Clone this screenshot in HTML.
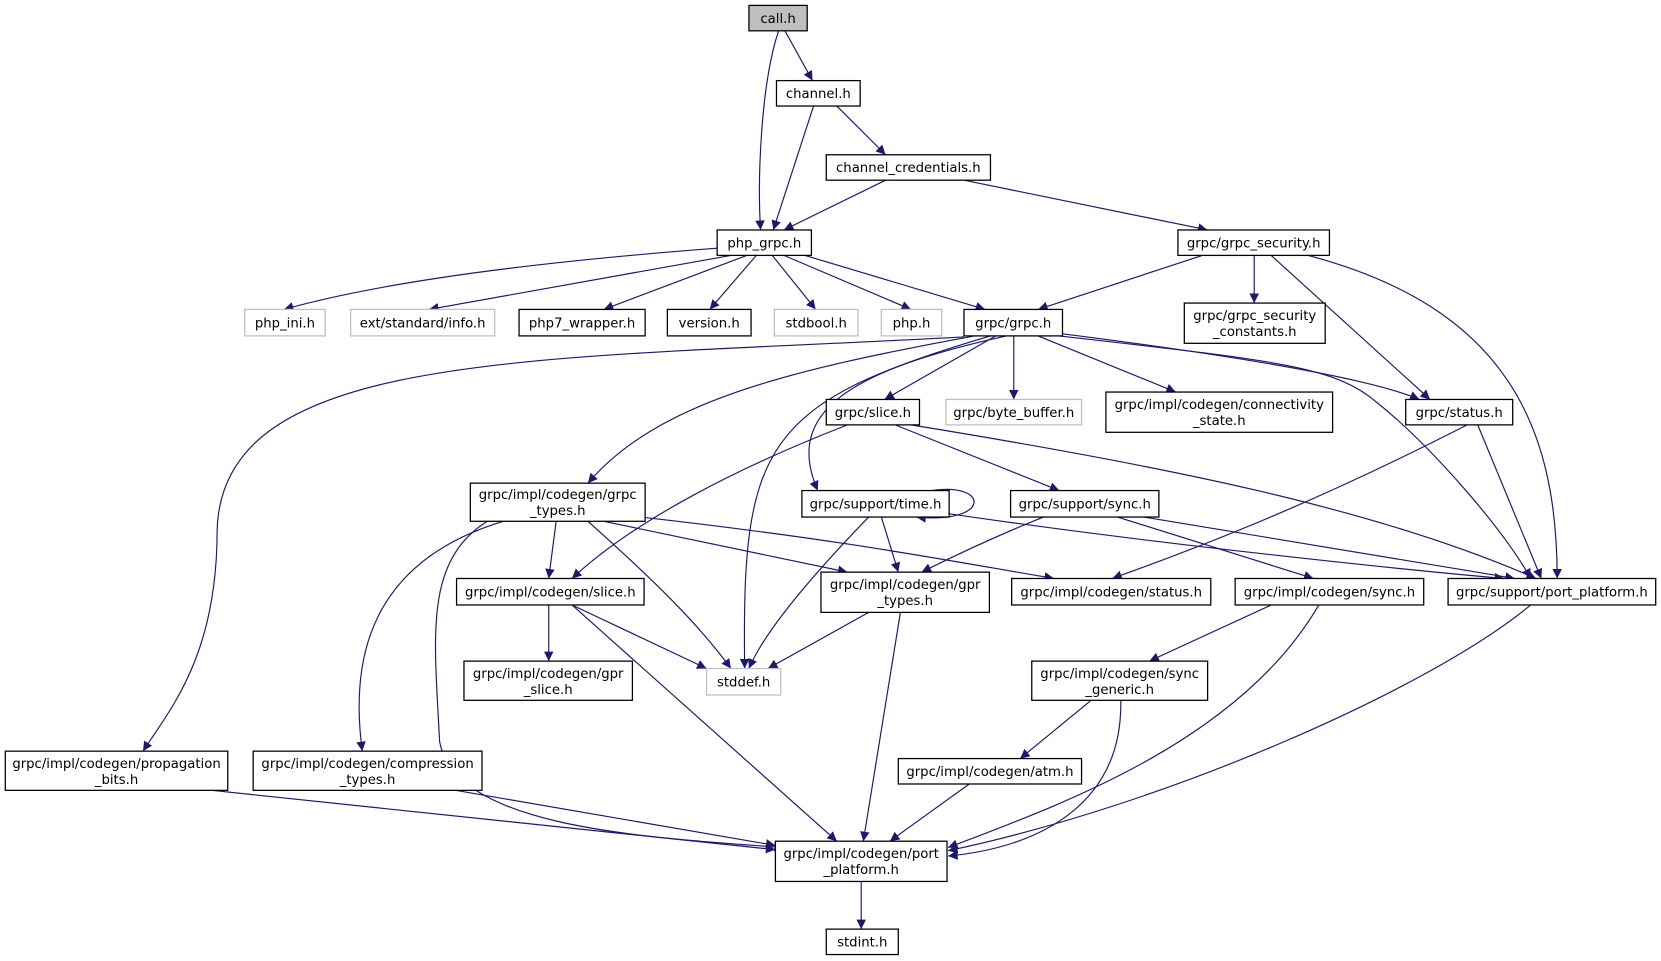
<!DOCTYPE html>
<html><head><meta charset="utf-8"><style>
html,body{margin:0;padding:0;background:#fff;width:1661px;height:961px;overflow:hidden}
svg text{font-family:"DejaVu Sans","Liberation Sans",sans-serif;font-size:12.5px;fill:#000;text-anchor:middle}
.b{fill:#fff;stroke:#000;stroke-width:1.2}
.g{fill:#fff;stroke:#bfbfbf;stroke-width:1.2}
.e{fill:none;stroke:#191970;stroke-width:1.1;marker-end:url(#a)}
</style></head><body>
<svg width="1661" height="961" viewBox="0 0 1568 907" xmlns="http://www.w3.org/2000/svg">
<defs><marker id="a" viewBox="0 0 10 10" refX="10" refY="5" markerWidth="9" markerHeight="9" markerUnits="userSpaceOnUse" orient="auto"><path d="M0,0L10,5L0,10z" fill="#191970"/></marker></defs>
<g>
<path class="e" d="M741,29L767,76"/>
<path class="e" d="M735,29C718,80 715,170 718,217"/>
<path class="e" d="M768,100L730,217"/>
<path class="e" d="M790,100L836,146"/>
<path class="e" d="M836,170L740,217"/>
<path class="e" d="M910,170L1140,217"/>
<path class="e" d="M680,234Q400,255 268,292"/>
<path class="e" d="M690,241L405,292"/>
<path class="e" d="M705,241L570,292"/>
<path class="e" d="M714,241L670,292"/>
<path class="e" d="M729,241L770,292"/>
<path class="e" d="M740,241L860,292"/>
<path class="e" d="M760,241L930,292"/>
<path class="e" d="M1135,241L980,292"/>
<path class="e" d="M1184,241L1184,286"/>
<path class="e" d="M1200,241L1350,377"/>
<path class="e" d="M1235,241C1420,290 1470,400 1470,546"/>
<path class="e" d="M910,318C500,340 210,330 205,500C205,620 160,670 135,709"/>
<path class="e" d="M920,317C740,350 620,380 555,456"/>
<path class="e" d="M935,317C720,380 700,420 703,631"/>
<path class="e" d="M950,317C800,350 740,390 772,463"/>
<path class="e" d="M940,317L835,377"/>
<path class="e" d="M957,317L957,377"/>
<path class="e" d="M980,317L1110,370"/>
<path class="e" d="M1003,315C1200,340 1300,360 1340,377"/>
<path class="e" d="M1000,317C1200,340 1260,345 1300,380C1350,420 1420,500 1445,546"/>
<path class="e" d="M800,401C700,440 600,490 540,546"/>
<path class="e" d="M845,401L1000,463"/>
<path class="e" d="M860,401C1100,440 1300,480 1450,546"/>
<path class="e" d="M1385,401C1250,470 1150,510 1050,546"/>
<path class="e" d="M1395,401L1455,546"/>
<path class="e" d="M525,492L518,546"/>
<path class="e" d="M555,492C620,550 660,590 690,631"/>
<path class="e" d="M570,492L800,540"/>
<path class="e" d="M605,488C800,510 900,530 995,546"/>
<path class="e" d="M475,492C350,530 330,620 342,709"/>
<path class="e" d="M460,492C400,530 410,600 415,700C430,780 600,790 740,800"/>
<path class="e" d="M880,463C935,455 935,495 865,488"/>
<path class="e" d="M832,488L848,540"/>
<path class="e" d="M820,488C760,550 720,600 707,631"/>
<path class="e" d="M890,484C1100,515 1350,540 1420,546"/>
<path class="e" d="M985,488C930,510 890,530 870,540"/>
<path class="e" d="M1055,488L1240,546"/>
<path class="e" d="M1080,488L1430,546"/>
<path class="e" d="M518,571L518,624"/>
<path class="e" d="M540,571L667,631"/>
<path class="e" d="M540,571L790,794"/>
<path class="e" d="M820,578L725,631"/>
<path class="e" d="M850,578L815,794"/>
<path class="e" d="M1200,571L1085,624"/>
<path class="e" d="M1245,571C1170,700 1000,760 895,800"/>
<path class="e" d="M1030,661L963,716"/>
<path class="e" d="M1058,661C1060,760 980,800 895,808"/>
<path class="e" d="M915,740L840,794"/>
<path class="e" d="M200,746L732,802"/>
<path class="e" d="M430,746L732,798"/>
<path class="e" d="M1445,571C1350,650 1100,760 895,803"/>
<path class="e" d="M813,832L813,877"/>
</g>
<g>
<rect x="707" y="5" width="55" height="24" fill="#bfbfbf" stroke="#000" stroke-width="1.2"/><text x="734.5" y="21.5">call.h</text>
<rect class="b" x="733" y="76" width="79" height="24"/><text x="772.5" y="92.5">channel.h</text>
<rect class="b" x="780" y="146" width="155" height="24"/><text x="857.5" y="162.5">channel_credentials.h</text>
<rect class="b" x="677" y="217" width="89" height="24"/><text x="721.5" y="233.5">php_grpc.h</text>
<rect class="b" x="1112" y="217" width="143" height="24"/><text x="1183.5" y="233.5">grpc/grpc_security.h</text>
<rect class="g" x="231" y="292" width="76" height="25"/><text x="269" y="309">php_ini.h</text>
<rect class="g" x="331" y="292" width="136" height="25"/><text x="399" y="309">ext/standard/info.h</text>
<rect class="b" x="490" y="292" width="119" height="25"/><text x="549.5" y="309">php7_wrapper.h</text>
<rect class="b" x="630" y="292" width="79" height="25"/><text x="669.5" y="309">version.h</text>
<rect class="g" x="731" y="292" width="79" height="25"/><text x="770.5" y="309">stdbool.h</text>
<rect class="g" x="832" y="292" width="57" height="25"/><text x="860.5" y="309">php.h</text>
<rect class="b" x="910" y="292" width="93" height="25"/><text x="956.5" y="309">grpc/grpc.h</text>
<rect class="b" x="1118" y="286" width="133" height="38"/><text x="1184.5" y="302">grpc/grpc_security</text><text x="1184.5" y="317">_constants.h</text>
<rect class="b" x="780" y="377" width="88" height="24"/><text x="824" y="393.5">grpc/slice.h</text>
<rect class="g" x="893" y="377" width="128" height="24"/><text x="957" y="393.5">grpc/byte_buffer.h</text>
<rect class="b" x="1044" y="370" width="214" height="38"/><text x="1151" y="386">grpc/impl/codegen/connectivity</text><text x="1151" y="401">_state.h</text>
<rect class="b" x="1327" y="377" width="101" height="24"/><text x="1377.5" y="393.5">grpc/status.h</text>
<rect class="b" x="444" y="456" width="165" height="36"/><text x="526.5" y="471">grpc/impl/codegen/grpc</text><text x="526.5" y="486">_types.h</text>
<rect class="b" x="757" y="463" width="139" height="25"/><text x="826.5" y="480">grpc/support/time.h</text>
<rect class="b" x="954" y="463" width="140" height="25"/><text x="1024" y="480">grpc/support/sync.h</text>
<rect class="b" x="431" y="546" width="177" height="25"/><text x="519.5" y="563">grpc/impl/codegen/slice.h</text>
<rect class="b" x="775" y="540" width="159" height="38"/><text x="854.5" y="556">grpc/impl/codegen/gpr</text><text x="854.5" y="571">_types.h</text>
<rect class="b" x="955" y="546" width="188" height="25"/><text x="1049" y="563">grpc/impl/codegen/status.h</text>
<rect class="b" x="1166" y="546" width="178" height="25"/><text x="1255" y="563">grpc/impl/codegen/sync.h</text>
<rect class="b" x="1367" y="546" width="196" height="25"/><text x="1465" y="563">grpc/support/port_platform.h</text>
<rect class="b" x="438" y="624" width="159" height="37"/><text x="517.5" y="640">grpc/impl/codegen/gpr</text><text x="517.5" y="655">_slice.h</text>
<rect class="g" x="667" y="631" width="70" height="25"/><text x="702" y="648">stddef.h</text>
<rect class="b" x="974" y="624" width="166" height="37"/><text x="1057" y="640">grpc/impl/codegen/sync</text><text x="1057" y="655">_generic.h</text>
<rect class="b" x="848" y="716" width="173" height="24"/><text x="934.5" y="732.5">grpc/impl/codegen/atm.h</text>
<rect class="b" x="5" y="709" width="210" height="37"/><text x="110" y="725">grpc/impl/codegen/propagation</text><text x="110" y="740">_bits.h</text>
<rect class="b" x="239" y="709" width="216" height="37"/><text x="347" y="725">grpc/impl/codegen/compression</text><text x="347" y="740">_types.h</text>
<rect class="b" x="732" y="794" width="162" height="38"/><text x="813" y="810">grpc/impl/codegen/port</text><text x="813" y="825">_platform.h</text>
<rect class="b" x="780" y="877" width="68" height="24"/><text x="814" y="893.5">stdint.h</text>
</g>
</svg>
</body></html>
